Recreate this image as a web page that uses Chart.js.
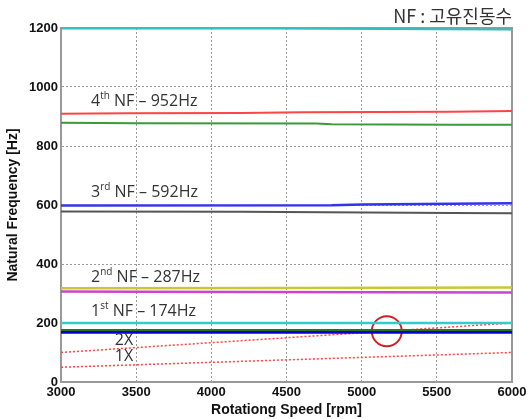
<!DOCTYPE html>
<html>
<head>
<meta charset="utf-8">
<script src="https://cdn.jsdelivr.net/npm/chart.js@4.4.0/dist/chart.umd.min.js"></script>
<style>
  html, body { margin: 0; padding: 0; background: #fff; }
  #wrap { width: 529px; height: 419px; }
</style>
</head>
<body>
<div id="wrap"><canvas id="nfChart" width="529" height="419"></canvas></div>
<script>
/* ---------- DATA ---------- */
const xTicks = [3000, 3500, 4000, 4500, 5000, 5500, 6000];
const yTicks = [0, 200, 400, 600, 800, 1000, 1200];

// natural frequency lines [rpm, Hz]
const nfTopCyan  = [[3000, 1198], [4400, 1198], [5500, 1196], [6000, 1195]];
const nfRed      = [[3000, 909], [3430, 911], [4200, 912], [4600, 914], [5600, 916], [6000, 919]];
const nfGreen    = [[3000, 879], [3500, 877], [4700, 876], [4800, 874], [5600, 872], [6000, 872]];
const nfBlue     = [[3000, 598], [4800, 599], [5000, 602], [6000, 606]];
const nfGray     = [[3000, 578], [4200, 577], [5600, 573], [6000, 572]];
const nfYellow   = [[3000, 318], [4500, 319], [6000, 320]];
const nfMagenta  = [[3000, 307], [3500, 306], [5100, 304], [6000, 303]];
const nfCyan     = [[3000, 200], [6000, 200]];
const nfDkGreen  = [[3000, 176], [6000, 176]];
const nfBlueBold = [[3000, 169], [6000, 169]];
const order2X    = [[3000, 100], [6000, 200]];
const order1X    = [[3000, 50], [6000, 100]];

// annotation texts: [rpm, Hz, base, superscript, rest]
const nfLabels = [
  [3200, 952, "4", "th", " NF \u2013 952Hz"],
  [3200, 642, "3", "rd", " NF \u2013 592Hz"],
  [3200, 355, "2", "nd", " NF \u2013 287Hz"],
  [3200, 240, "1", "st", " NF \u2013 174Hz"]
];
const orderLabels = [[3480, 142, "2X"], [3480, 85, "1X"]];
const marker = [[5167, 172]];

/* ---------- HELPERS ---------- */
function pts(arr) {
  return arr.map(p => ({ x: p[0], y: p[1] }));
}

function line(data, color, width, dash) {
  return {
    type: "line",
    data: pts(data),
    borderColor: color,
    borderWidth: width,
    borderDash: dash || [],
    pointRadius: 0,
    fill: false,
    tension: 0
  };
}

const LABEL_FONT = "'Open Sans', 'Noto Sans', sans-serif";

/* ---------- TEXT PLUGIN ---------- */
const textPlugin = {
  id: "nfText",
  afterDatasetsDraw(chart) {
    const ctx = chart.ctx;
    const xs = chart.scales.x;
    const ys = chart.scales.y;
    ctx.save();
    ctx.fillStyle = "#333";
    ctx.textBaseline = "middle";
    ctx.textAlign = "left";

    nfLabels.forEach(l => {
      let px = xs.getPixelForValue(l[0]);
      const py = ys.getPixelForValue(l[1]);
      ctx.font = "16px " + LABEL_FONT;
      ctx.fillText(l[2], px, py);
      px += ctx.measureText(l[2]).width;
      ctx.font = "10px " + LABEL_FONT;
      ctx.fillText(l[3], px, py - 5);
      px += ctx.measureText(l[3]).width;
      ctx.font = "16px " + LABEL_FONT;
      ctx.fillText(l[4], px, py);
    });

    ctx.font = "16px " + LABEL_FONT;
    ctx.textAlign = "right";
    orderLabels.forEach(l => {
      ctx.fillText(l[2], xs.getPixelForValue(l[0]), ys.getPixelForValue(l[1]));
    });

    ctx.textBaseline = "alphabetic";
    ctx.font = "18px 'Noto Sans CJK KR', sans-serif";
    ctx.fillText("NF : 고유진동수", chart.chartArea.right, 23);
    ctx.restore();
  }
};

/* ---------- CHART ---------- */
const ctx = document.getElementById("nfChart").getContext("2d");

new Chart(ctx, {
  data: {
    datasets: [
      line(nfTopCyan, "#2fbfbf", 2),
      line(nfRed, "#ff4444", 2),
      line(nfGreen, "#3a9a3a", 2),
      line(nfBlue, "#3333ee", 2.5),
      line(nfGray, "#555555", 2),
      line(nfYellow, "#c8c832", 2.5),
      line(nfMagenta, "#cc44cc", 2.5),
      line(nfCyan, "#33cccc", 2.5),
      line(nfDkGreen, "#227722", 2),
      line(nfBlueBold, "#0000dd", 3),
      line(order2X, "#ff4444", 1.5, [2, 2]),
      line(order1X, "#ff4444", 1.5, [2, 2]),
      {
        type: "scatter",
        data: pts(marker),
        pointRadius: 15,
        pointBorderWidth: 2,
        pointBorderColor: "#cc2222",
        pointBackgroundColor: "rgba(0,0,0,0)"
      }
    ]
  },
  options: {
    responsive: false,
    animation: false,
    layout: { padding: { top: 28, right: 14, left: 0, bottom: 0 } },
    plugins: {
      legend: { display: false },
      tooltip: { enabled: false }
    },
    scales: {
      x: {
        type: "linear",
        min: 3000,
        max: 6000,
        afterBuildTicks: s => { s.ticks = xTicks.map(v => ({ value: v })); },
        afterFit: s => { s.height = 37; s.paddingRight = 0; s.paddingLeft = 0; },
        ticks: {
          color: "#111",
          padding: 3,
          callback: v => String(v),
          font: { family: "'Liberation Sans', Arial, sans-serif", size: 13, weight: "bold" }
        },
        title: {
          display: true,
          text: "Rotationg Speed [rpm]",
          color: "#111",
          padding: { top: 0, bottom: 0 },
          font: { family: "'Liberation Sans', Arial, sans-serif", size: 14, weight: "bold" }
        },
        grid: {
          color: "#999",
          lineWidth: 1,
          drawTicks: false
        },
        border: { color: "#999", width: 2, dash: [2, 2] }
      },
      y: {
        type: "linear",
        min: 0,
        max: 1200,
        afterBuildTicks: s => { s.ticks = yTicks.map(v => ({ value: v })); },
        afterFit: s => { s.width = 61; },
        ticks: {
          color: "#111",
          padding: 3,
          callback: v => String(v),
          font: { family: "'Liberation Sans', Arial, sans-serif", size: 13, weight: "bold" }
        },
        title: {
          display: true,
          text: "Natural Frequency [Hz]",
          color: "#111",
          padding: { top: 5, bottom: 2 },
          font: { family: "'Liberation Sans', Arial, sans-serif", size: 14, weight: "bold" }
        },
        grid: {
          color: "#999",
          lineWidth: 1,
          drawTicks: false
        },
        border: { color: "#999", width: 2, dash: [2, 2] }
      }
    }
  },
  plugins: [textPlugin, {
    id: "frame",
    beforeDatasetsDraw(chart) {
      const a = chart.chartArea;
      const c = chart.ctx;
      c.save();
      c.strokeStyle = "#999";
      c.lineWidth = 2;
      c.strokeRect(a.left, a.top, a.right - a.left, a.bottom - a.top);
      c.restore();
    }
  }]
});
</script>
</body>
</html>
